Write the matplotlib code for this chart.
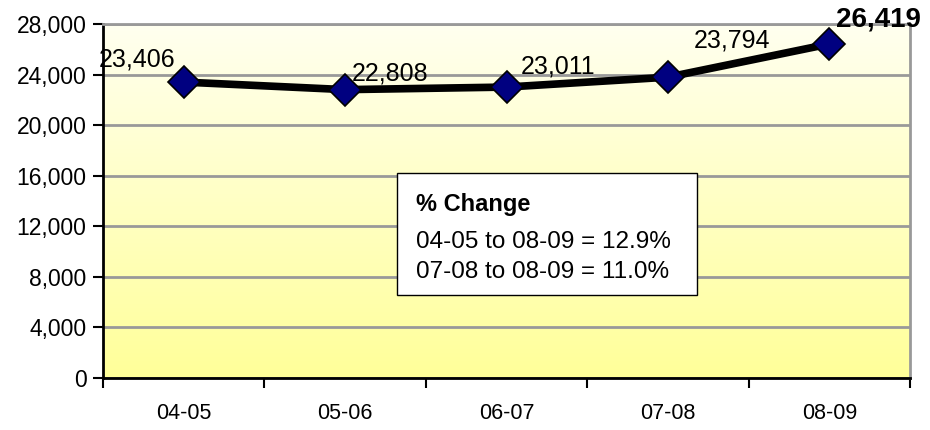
import numpy as np
import matplotlib.pyplot as plt
from matplotlib.ticker import FuncFormatter

years = ["04-05", "05-06", "06-07", "07-08", "08-09"]
counts = [23406, 22808, 23011, 23794, 26419]
label_offsets = [(-47, 23), (45, 16), (52, 21), (64, 37), (49, 24)]
box_title = "% Change"
box_lines = ["04-05 to 08-09 = 12.9%", "07-08 to 08-09 = 11.0%"]

plt.rcParams["font.family"] = ["Liberation Sans", "DejaVu Sans"]

fig = plt.figure(figsize=(9.3, 4.3), dpi=100)
ax = fig.add_axes([0.1108, 0.1209, 0.8677, 0.8233])

x = np.arange(len(years))
ax.set_xlim(-0.5, len(years) - 0.5)
ax.set_ylim(0, 28000)

# background gradient, pale cream at top to yellow at bottom
grad = np.linspace(0, 1, 256).reshape(-1, 1)
top = np.array([1.0, 1.0, 0.94])
bot = np.array([1.0, 1.0, 0.60])
img = top * (1 - grad[..., None]) + bot * grad[..., None]
ax.imshow(img, extent=[0, 1, 0, 1], transform=ax.transAxes,
          aspect="auto", zorder=0)

ax.set_yticks(np.arange(0, 28001, 4000))
ax.yaxis.set_major_formatter(FuncFormatter(lambda v, p: f"{int(v):,}"))
ax.grid(axis="y", color="#999999", linewidth=2, zorder=1)
ax.set_axisbelow(True)

ax.set_xticks(x)
ax.set_xticklabels(years, fontsize=15.5)
ax.set_xticks(np.arange(-0.5, len(years)), minor=True)
ax.tick_params(axis="x", which="major", length=0, pad=18)
ax.tick_params(axis="x", which="minor", length=7, width=1.5, direction="out")
ax.tick_params(axis="y", length=7, width=1.5, labelsize=16.5, pad=5)

for side in ["top", "right"]:
    ax.spines[side].set_color("#999999")
    ax.spines[side].set_linewidth(2)
for side in ["left", "bottom"]:
    ax.spines[side].set_color("black")
    ax.spines[side].set_linewidth(2)

ax.plot(x, counts, color="black", linewidth=5.5, marker="D", markersize=16,
        markerfacecolor="#000080", markeredgecolor="black", markeredgewidth=1.2,
        zorder=3, clip_on=False)

for i, (xi, v) in enumerate(zip(x, counts)):
    bold = i == len(counts) - 1
    ax.annotate(f"{v:,}", (xi, v), xytext=label_offsets[i], textcoords="offset pixels",
                ha="center", va="center", fontsize=20 if bold else 18,
                fontweight="bold" if bold else "normal", zorder=4)

box = plt.Rectangle((0.364, 0.234), 0.372, 0.345, transform=ax.transAxes,
                    facecolor="white", edgecolor="black", linewidth=1, zorder=4.5)
ax.add_patch(box)
ax.text(0.388, 0.49, box_title, transform=ax.transAxes, fontsize=17,
        fontweight="bold", va="center", ha="left", zorder=5)
ax.text(0.388, 0.385, box_lines[0], transform=ax.transAxes, fontsize=17.5,
        va="center", ha="left", zorder=5)
ax.text(0.388, 0.30, box_lines[1], transform=ax.transAxes, fontsize=17.5,
        va="center", ha="left", zorder=5)

fig.savefig("out.png", dpi=100)
